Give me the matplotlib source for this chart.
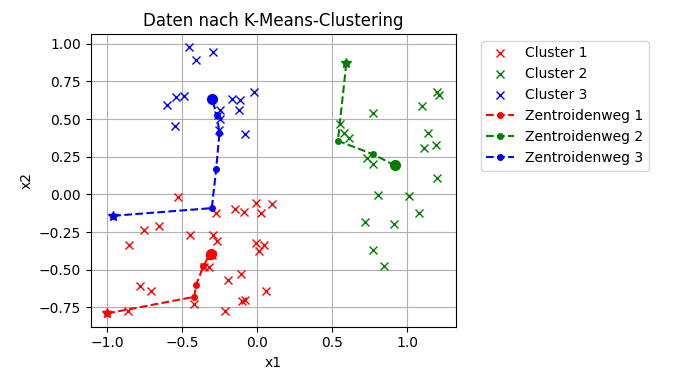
import numpy as np
import matplotlib.pyplot as plt

# ============================================================
# Data
# ============================================================
cluster1_x = [-0.531, -0.274, -0.148, -0.088, -0.009, 0.023, 0.096,
              -0.752, -0.657, -0.852, -0.451, -0.292, -0.270, -0.009,
              0.013, 0.044, -0.354, -0.325, -0.193, -0.110, -0.784,
              -0.708, 0.058, -0.425, -0.104, -0.082, -0.214, -0.863,
              -0.300]
cluster1_y = [-0.015, -0.124, -0.096, -0.118, -0.058, -0.124, -0.065,
              -0.239, -0.213, -0.334, -0.268, -0.268, -0.308, -0.323,
              -0.374, -0.334, -0.482, -0.484, -0.570, -0.526, -0.610,
              -0.643, -0.643, -0.725, -0.709, -0.702, -0.771, -0.771,
              -0.405]

cluster2_x = [0.775, 1.098, 1.202, 1.213, 0.554, 0.582, 0.611, 1.138,
              1.114, 1.195, 0.733, 0.775, 1.202, 0.804, 1.014, 1.080,
              0.720, 0.914, 0.770, 0.848]
cluster2_y = [0.541, 0.585, 0.680, 0.658, 0.466, 0.409, 0.378, 0.411,
              0.306, 0.325, 0.239, 0.200, 0.109, -0.003, -0.010, -0.124,
              -0.186, -0.195, -0.372, -0.477]

cluster3_x = [-0.458, -0.407, -0.296, -0.602, -0.540, -0.487, -0.546,
              -0.248, -0.248, -0.252, -0.170, -0.115, -0.122, -0.022,
              -0.082, -0.265]
cluster3_y = [0.977, 0.894, 0.944, 0.592, 0.647, 0.653, 0.453,
              0.563, 0.504, 0.427, 0.636, 0.630, 0.559, 0.680,
              0.398, 0.530]

# centroid paths (first point = start, last point = final centroid)
path1_x = [-1.000, -0.420, -0.407, -0.359, -0.325, -0.309]
path1_y = [-0.790, -0.680, -0.599, -0.477, -0.411, -0.394]

path2_x = [0.594, 0.538, 0.775, 0.916]
path2_y = [0.870, 0.356, 0.266, 0.193]

path3_x = [-0.960, -0.303, -0.274, -0.252, -0.270, -0.303]
path3_y = [-0.142, -0.091, 0.167, 0.409, 0.530, 0.636]

colors = ["r", "g", "b"]

# ============================================================
# Plot
# ============================================================
fig = plt.figure(figsize=(6.75, 3.74), dpi=100)
ax = fig.add_axes([0.1344, 0.1265, 0.5407, 0.7826])

clusters = [(cluster1_x, cluster1_y), (cluster2_x, cluster2_y),
            (cluster3_x, cluster3_y)]
paths = [(path1_x, path1_y), (path2_x, path2_y), (path3_x, path3_y)]

for i, (cx, cy) in enumerate(clusters):
    ax.plot(cx, cy, "x", color=colors[i], label=f"Cluster {i + 1}")

for i, (px, py) in enumerate(paths):
    ax.plot(px, py, "--o", color=colors[i], markersize=4,
            label=f"Zentroidenweg {i + 1}")
    ax.plot(px[0], py[0], "*", color=colors[i], markersize=7)
    ax.plot(px[-1], py[-1], "o", color=colors[i], markersize=7)

ax.set_title("Daten nach K-Means-Clustering")
ax.set_xlabel("x1")
ax.set_ylabel("x2")
ax.grid(True)
ax.legend(bbox_to_anchor=(1.05, 1), loc="upper left")

plt.savefig("out.png", dpi=100)
